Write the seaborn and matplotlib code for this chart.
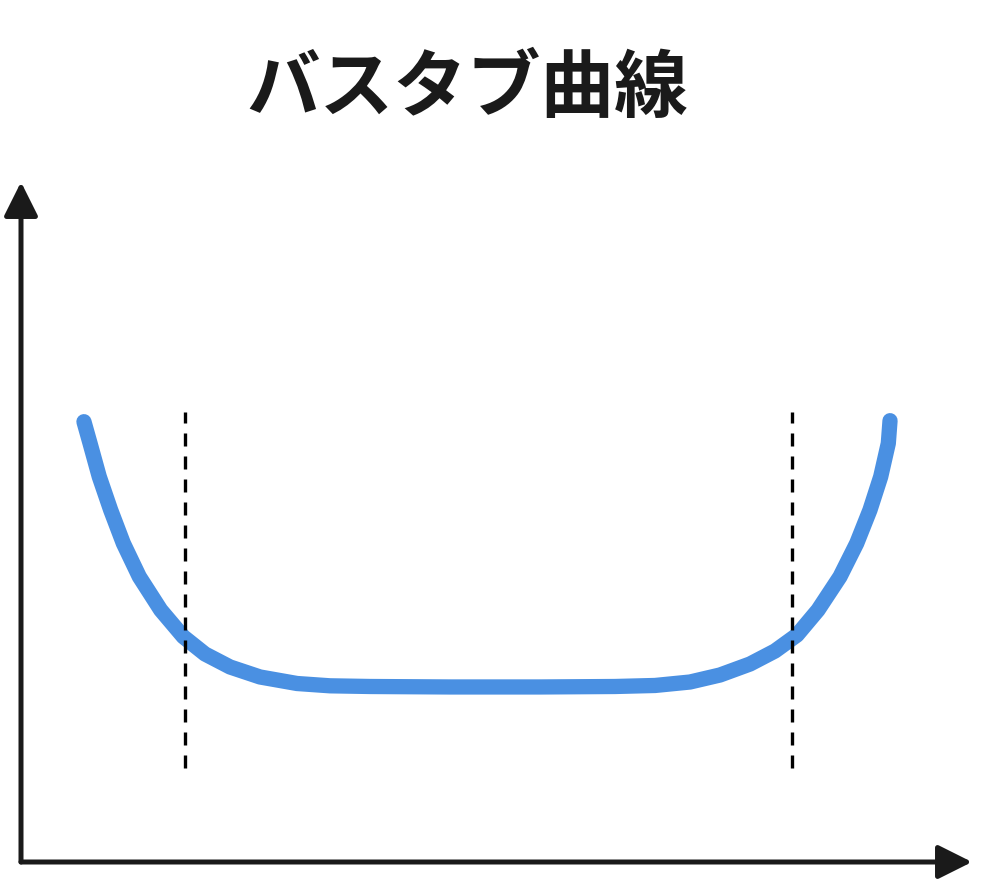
import pandas as pd
import seaborn as sns
import matplotlib.pyplot as plt
import warnings
warnings.filterwarnings("ignore")

# ---------------- DATA ----------------
TITLE = "バスタブ曲線"

# time (0-100 along x axis) vs failure rate (0-100 along y axis)
time_pts = [6.62, 7.26, 8.23, 9.43, 10.76, 12.44, 14.69, 17.07, 19.35, 21.98, 25.13, 29.02,
            32.49, 36.70, 45.11, 54.57, 62.46, 66.67, 70.35, 73.50, 76.66, 79.28, 81.60,
            83.81, 86.12, 87.88, 89.27, 90.40, 91.20, 91.38]
rate_pts = [64.75, 61.57, 56.66, 51.76, 46.87, 41.96, 37.06, 33.13, 30.59, 28.68, 27.21, 26.25,
            25.91, 25.81, 25.74, 25.74, 25.81, 25.96, 26.47, 27.50, 29.12, 31.03, 33.38,
            37.06, 41.96, 46.87, 51.76, 56.66, 61.57, 64.90]

# phase boundaries (dashed verticals) and their vertical extent
boundaries = [17.25, 81.1]
boundary_span = [13.8, 66.2]

CURVE_COLOR = "#4a90e2"
INK = "#1a1a1a"

# ---------------- PLOT ----------------
sns.set_style("white")
plt.rcParams['font.family'] = ['Noto Sans CJK JP', 'DejaVu Sans']

fig = plt.figure(figsize=(9.89, 8.8), dpi=100)
ax = fig.add_axes([21 / 989, 18 / 880, 951 / 989, 680 / 880])
ax.set_xlim(0, 100)
ax.set_ylim(0, 100)
ax.axis("off")

df = pd.DataFrame({"time": time_pts, "rate": rate_pts})
sns.lineplot(data=df, x="time", y="rate", sort=False, estimator=None, ax=ax,
             color=CURVE_COLOR, linewidth=11, solid_capstyle="round",
             solid_joinstyle="round")

ax.vlines(boundaries, boundary_span[0], boundary_span[1], colors="black",
          linewidth=2.4, linestyles=(0, (3.9, 3.0)))

# axis arrows
arrow_kw = dict(arrowstyle="-|>", lw=3.6, color=INK, mutation_scale=52,
                shrinkA=0, shrinkB=0)
ax.annotate("", xy=(100, 0), xytext=(0, 0), arrowprops=arrow_kw, annotation_clip=False)
ax.annotate("", xy=(0, 100), xytext=(0, 0), arrowprops=arrow_kw, annotation_clip=False)

fig.text(0.472, 1 - 90 / 880, TITLE, ha="center", va="center", fontsize=53,
         fontweight="bold", color=INK)

fig.savefig("out.png", dpi=100)
